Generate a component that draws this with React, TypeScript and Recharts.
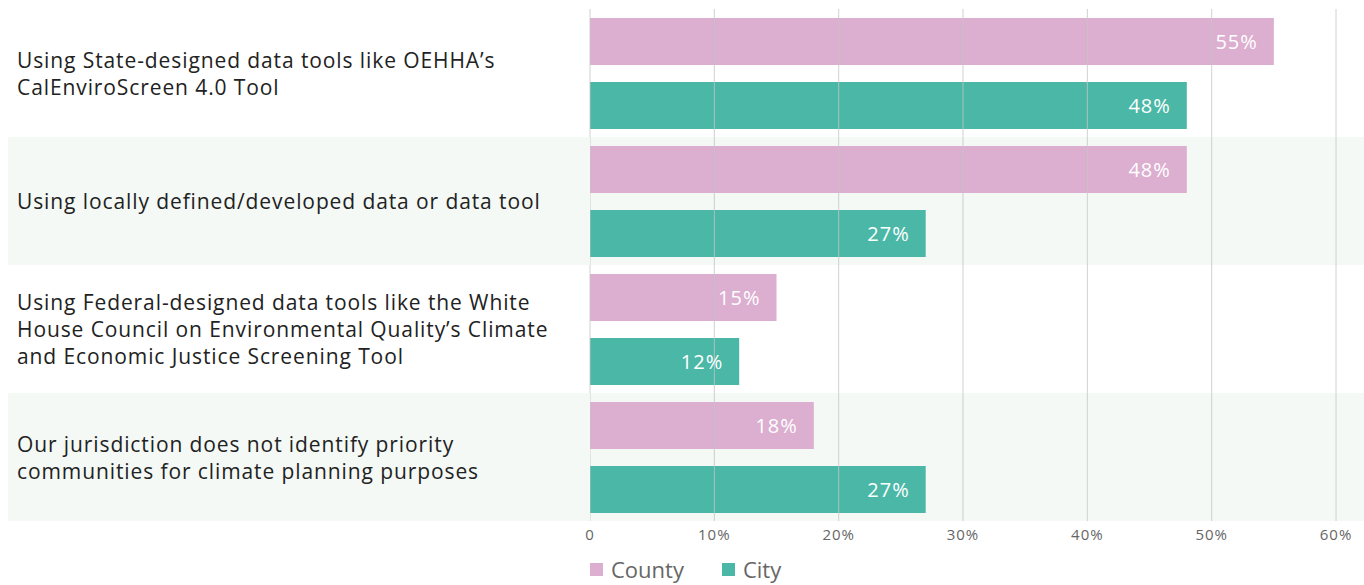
import React from 'react'
import { BarChart, Bar, XAxis, YAxis, ReferenceArea, ReferenceLine, Legend, LabelList } from 'recharts'

const categories = [
  'Using State-designed data tools like OEHHA’s CalEnviroScreen 4.0 Tool',
  'Using locally defined/developed data or data tool',
  'Using Federal-designed data tools like the White House Council on Environmental Quality’s Climate and Economic Justice Screening Tool',
  'Our jurisdiction does not identify priority communities for climate planning purposes',
]

const labelLines = [
  ['Using State-designed data tools like OEHHA’s', 'CalEnviroScreen 4.0 Tool'],
  ['Using locally defined/developed data or data tool'],
  [
    'Using Federal-designed data tools like the White',
    'House Council on Environmental Quality’s Climate',
    'and Economic Justice Screening Tool',
  ],
  ['Our jurisdiction does not identify priority', 'communities for climate planning purposes'],
]

const county = [55, 48, 15, 18]
const city = [48, 27, 12, 27]
const xTicks = [0, 10, 20, 30, 40, 50, 60]

const PINK = '#dcaed0'
const TEAL = '#4bb8a7'
const BAND = '#f4f9f6'
const FONT = '"Open Sans", Lato, sans-serif'

const data = categories.map((name, i) => ({ name, county: county[i], city: city[i] }))

function CategoryTick(props: any) {
  const { y, index } = props
  const lines = labelLines[index] || []
  const lh = 27
  const startY = y - ((lines.length - 1) * lh) / 2
  return (
    <g>
      {index % 2 === 1 && <rect x={0} y={y - 64} width={582} height={128} fill={BAND} />}
      <text x={9} y={startY} fontSize={21} letterSpacing={0.9} fill="#222" fontFamily={FONT} dominantBaseline="central">
        {lines.map((l, i) => (
          <tspan key={i} x={9} dy={i === 0 ? 0 : lh}>
            {l}
          </tspan>
        ))}
      </text>
    </g>
  )
}

function LegendContent() {
  const items = [
    { label: 'County', color: PINK },
    { label: 'City', color: TEAL },
  ]
  return (
    <div style={{ display: 'flex', alignItems: 'center', fontFamily: FONT, paddingTop: 5 }}>
      {items.map((it) => (
        <div key={it.label} style={{ display: 'flex', alignItems: 'center', marginRight: 38 }}>
          <span style={{ width: 13, height: 13, background: it.color, display: 'inline-block', marginRight: 8 }} />
          <span style={{ fontSize: 22, color: '#666', lineHeight: '26px' }}>{it.label}</span>
        </div>
      ))}
    </div>
  )
}

export default function App() {
  return (
    <div style={{ position: 'absolute', left: 8, top: 8 }}>
      <BarChart
        width={1356}
        height={577}
        data={data}
        layout="vertical"
        margin={{ top: 1, right: 0, left: 0, bottom: 0 }}
        barSize={47}
        barGap={17}
      >
        <XAxis
          type="number"
          domain={[0, 62.25]}
          ticks={xTicks}
          axisLine={false}
          tickLine={false}
          height={30}
          tickMargin={2}
          tick={{ fontSize: 15, fill: '#666', fontFamily: FONT, letterSpacing: 1 }}
          tickFormatter={(v: number) => (v === 0 ? '0' : `${v}%`)}
        />
        <YAxis type="category" dataKey="name" width={582} axisLine={false} tickLine={false} tick={<CategoryTick />} interval={0} />
        {[1, 3].map((i) => (
          <ReferenceArea key={i} y1={categories[i]} y2={categories[i]} fill={BAND} fillOpacity={1} stroke="none" ifOverflow="visible" />
        ))}
        <Bar dataKey="county" fill={PINK} isAnimationActive={false}>
          <LabelList dataKey="county" position="insideRight" offset={16} fill="#fff" fontSize={20} letterSpacing={1} fontFamily={FONT} formatter={(v: any) => `${v}%`} />
        </Bar>
        <Bar dataKey="city" fill={TEAL} isAnimationActive={false}>
          <LabelList dataKey="city" position="insideRight" offset={16} fill="#fff" fontSize={20} letterSpacing={1} fontFamily={FONT} formatter={(v: any) => `${v}%`} />
        </Bar>
        {xTicks.map((t) => (
          <ReferenceLine key={t} x={t} stroke="#c4c4c4" strokeOpacity={0.8} ifOverflow="visible" />
        ))}
        <Legend
          verticalAlign="bottom"
          height={34}
          content={<LegendContent />}
          wrapperStyle={{ left: 582, width: 400 }}
        />
      </BarChart>
    </div>
  )
}
